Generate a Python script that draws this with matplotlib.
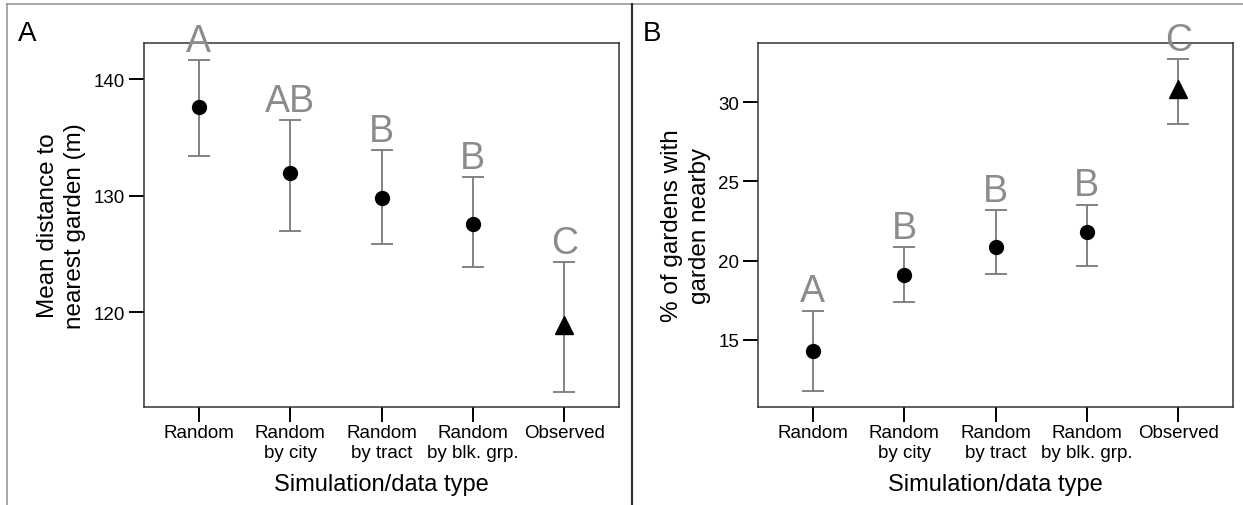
import matplotlib
matplotlib.use("Agg")
import matplotlib.pyplot as plt
from matplotlib.lines import Line2D

plt.rcParams["font.family"] = ["Liberation Sans", "DejaVu Sans"]

# Simulation / data types on the x axis
categories = ["Random", "Random\nby city", "Random\nby tract", "Random\nby blk. grp.", "Observed"]

# Panel A: mean distance to nearest garden (m), with interval bounds
dist_mean = [137.6, 132.0, 129.8, 127.6, 118.9]
dist_upper = [141.7, 136.5, 133.9, 131.6, 124.3]
dist_lower = [133.4, 127.0, 125.9, 123.9, 113.2]
dist_groups = ["A", "AB", "B", "B", "C"]

# Panel B: % of gardens with a garden nearby, with interval bounds
near_mean = [14.27, 19.07, 20.84, 21.79, 30.82]
near_upper = [16.84, 20.88, 23.22, 23.54, 32.73]
near_lower = [11.73, 17.39, 19.15, 19.66, 28.63]
near_groups = ["A", "B", "B", "B", "C"]

W, H = 1243, 506
fig = plt.figure(figsize=(W / 100, H / 100), dpi=100)


def px_box(left, top, right, bottom):
    return [left / W, 1 - bottom / H, (right - left) / W, (bottom - top) / H]


def draw_panel(ax, means, upper, lower, groups, ylim, yticks, ylabel, ylabel_x):
    x = list(range(1, len(means) + 1))
    for xi, m, hi, lo, g in zip(x, means, upper, lower, groups):
        observed = xi == len(means)
        ax.errorbar(
            [xi], [m], yerr=[[m - lo], [hi - m]],
            fmt="none", ecolor="#7a7a7a", elinewidth=1.3, capsize=8, capthick=1.3,
            zorder=2,
        )
        ax.plot(
            xi, m, marker="^" if observed else "o",
            markersize=12.5 if observed else 10, color="black", zorder=3,
        )
        ax.annotate(
            g, (xi, hi), xytext=(0, 6.5), textcoords="offset points",
            ha="center", va="baseline", fontsize=27, color="#8c8c8c",
            annotation_clip=False, zorder=4,
        )

    ax.set_xlim(0.4, 5.6)
    ax.set_ylim(*ylim)
    ax.set_xticks(x)
    ax.set_xticklabels(categories)
    ax.set_yticks(yticks)
    ax.tick_params(axis="both", direction="out", length=10.5, width=1.4,
                   labelsize=13.5, color="black")
    ax.tick_params(axis="x", pad=2)
    ax.tick_params(axis="y", pad=3)
    for sp in ax.spines.values():
        sp.set_linewidth(1.1)
        sp.set_color("#333333")

    ax.set_xlabel("Simulation/data type", fontsize=17)
    ax.xaxis.label.set_verticalalignment("baseline")
    ax.xaxis.set_label_coords(0.5, (408 - 491) / 364)

    ax.set_ylabel(ylabel, fontsize=17.5, linespacing=1.3)
    ax.yaxis.label.set_verticalalignment("center")
    ax.yaxis.set_label_coords(ylabel_x, 0.5)


ax_a = fig.add_axes(px_box(144, 44, 619, 408))
draw_panel(ax_a, dist_mean, dist_upper, dist_lower, dist_groups,
           (111.87, 143.12), [120, 130, 140],
           "Mean distance to\nnearest garden (m)", (61.5 - 144) / 475)

ax_b = fig.add_axes(px_box(758, 44, 1233, 408))
draw_panel(ax_b, near_mean, near_upper, near_lower, near_groups,
           (10.74, 33.75), [15, 20, 25, 30],
           "% of gardens with\ngarden nearby", (686 - 758) / 475)

# Panel letters
fig.text(18 / W, 1 - 41 / H, "A", fontsize=20, va="baseline", ha="left")
fig.text(643 / W, 1 - 41 / H, "B", fontsize=20, va="baseline", ha="left")

# Outer frame and divider between panels
fig.add_artist(Line2D([7 / W, 1], [1 - 5 / H, 1 - 5 / H], color="#999999", lw=1.2))
fig.add_artist(Line2D([7 / W, 7 / W], [0, 1 - 5 / H], color="#999999", lw=1.2))
fig.add_artist(Line2D([632 / W, 632 / W], [0, 1 - 5 / H], color="#333333", lw=1.6))

fig.savefig("out.png", dpi=100)
